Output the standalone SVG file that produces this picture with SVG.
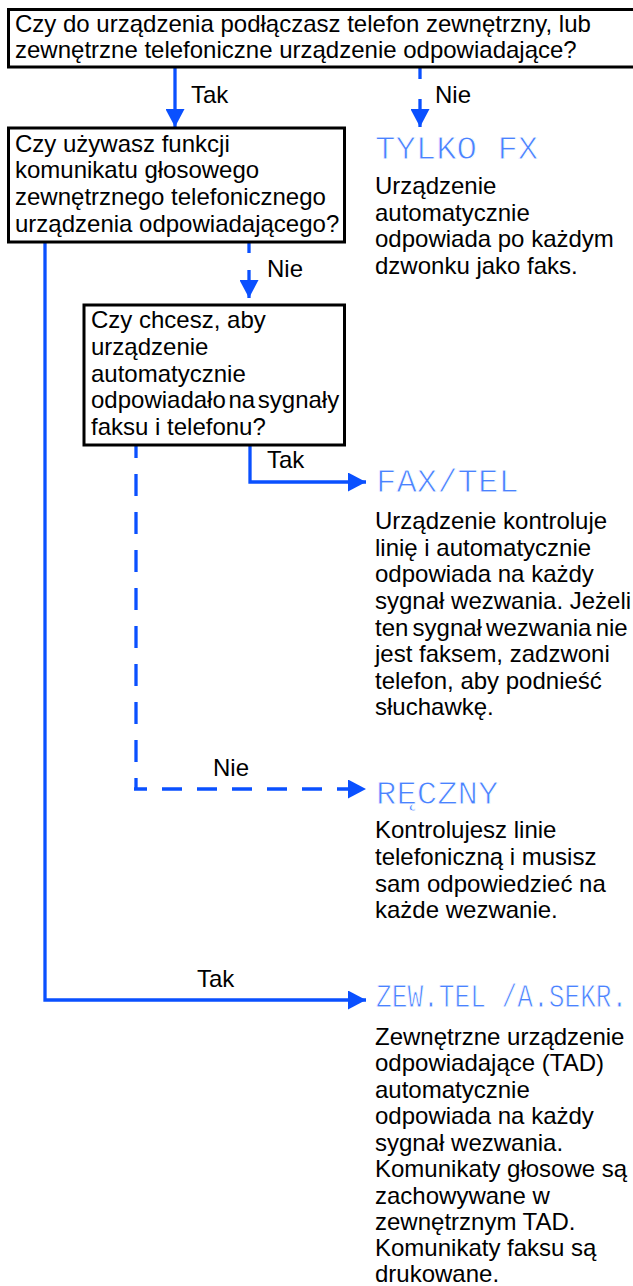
<svg xmlns="http://www.w3.org/2000/svg" width="633" height="1286" viewBox="0 0 633 1286">
<style>
.t{font-family:"Liberation Sans",Arial,sans-serif;font-size:24px;fill:#000}
.h{font-family:"Liberation Mono","Courier New",monospace;font-size:34px;fill:#4a82ff;stroke:#fff;stroke-width:0.9}
.box{fill:#fff;stroke:#000;stroke-width:3}
.c{fill:none;stroke:#0a50ff;stroke-width:3.3}
</style>
<defs>
<marker id="ah" markerUnits="userSpaceOnUse" markerWidth="18" markerHeight="19" refX="18" refY="9.5" orient="auto" viewBox="0 0 18 19">
<path d="M0,0 L18,9.5 L0,19 Z" fill="#0a50ff"/>
</marker>
</defs>
<rect width="633" height="1286" fill="#fff"/>
<g id="connectors">
<path class="c" d="M175,68 V127" marker-end="url(#ah)"/>
<path class="c" d="M420,68 V127" stroke-dasharray="11 20 100" marker-end="url(#ah)"/>
<path class="c" d="M249,242 V298" stroke-dasharray="11 17 100" marker-end="url(#ah)"/>
<path class="c" d="M45,242 V1000 H366" marker-end="url(#ah)"/>
<path class="c" d="M250,445 V482 H366" marker-end="url(#ah)"/>
<path class="c" d="M136,436 V790" stroke-dasharray="22 16"/>
<path class="c" d="M134,789 H366" stroke-dasharray="20 15" stroke-dashoffset="7" marker-end="url(#ah)"/>
<text class="t" x="191" y="103">Tak</text>
<text class="t" x="435" y="103">Nie</text>
<text class="t" x="267" y="277">Nie</text>
<text class="t" x="267" y="468">Tak</text>
<text class="t" x="213" y="776">Nie</text>
<text class="t" x="197" y="987">Tak</text>
</g>
<g id="q1">
<rect class="box" x="8.5" y="9.5" width="640" height="57.5"/>
<text class="t" x="15" y="32">Czy do urządzenia podłączasz telefon zewnętrzny, lub</text>
<text class="t" x="15" y="58">zewnętrzne telefoniczne urządzenie odpowiadające?</text>
</g>
<g id="q2">
<rect class="box" x="8.5" y="128" width="336" height="114"/>
<text class="t" x="15" y="152">Czy używasz funkcji</text>
<text class="t" x="15" y="178">komunikatu głosowego</text>
<text class="t" x="15" y="205">zewnętrznego telefonicznego</text>
<text class="t" x="15" y="232">urządzenia odpowiadającego?</text>
</g>
<g id="q3">
<rect class="box" x="84" y="305" width="260.5" height="140"/>
<text class="t" x="91" y="328">Czy chcesz, aby</text>
<text class="t" x="91" y="355">urządzenie</text>
<text class="t" x="91" y="382">automatycznie</text>
<text class="t" x="91" y="408" word-spacing="-4">odpowiadało na sygnały</text>
<text class="t" x="91" y="435">faksu i telefonu?</text>
</g>
<g id="fx">
<text class="h" x="375" y="159">TYLKO FX</text>
<text class="t" x="375" y="194">Urządzenie</text>
<text class="t" x="375" y="221">automatycznie</text>
<text class="t" x="375" y="247">odpowiada po każdym</text>
<text class="t" x="375" y="274">dzwonku jako faks.</text>
</g>
<g id="faxtel">
<text class="h" x="376" y="492">FAX/TEL</text>
<text class="t" x="375" y="529">Urządzenie kontroluje</text>
<text class="t" x="375" y="556">linię i automatycznie</text>
<text class="t" x="375" y="582">odpowiada na każdy</text>
<text class="t" x="375" y="609">sygnał wezwania. Jeżeli</text>
<text class="t" x="375" y="636" word-spacing="-2.5">ten sygnał wezwania nie</text>
<text class="t" x="375" y="662">jest faksem, zadzwoni</text>
<text class="t" x="375" y="689">telefon, aby podnieść</text>
<text class="t" x="375" y="715">słuchawkę.</text>
</g>
<g id="reczny">
<text class="h" x="376" y="804">RĘCZNY</text>
<text class="t" x="375" y="838">Kontrolujesz linie</text>
<text class="t" x="375" y="865">telefoniczną i musisz</text>
<text class="t" x="375" y="892">sam odpowiedzieć na</text>
<text class="t" x="375" y="918">każde wezwanie.</text>
</g>
<g id="zewtel">
<text class="h" transform="translate(376,1007) scale(0.77,1)" x="0" y="0">ZEW.TEL /A.SEKR.</text>
<text class="t" x="375" y="1045">Zewnętrzne urządzenie</text>
<text class="t" x="375" y="1071">odpowiadające (TAD)</text>
<text class="t" x="375" y="1098">automatycznie</text>
<text class="t" x="375" y="1124">odpowiada na każdy</text>
<text class="t" x="375" y="1151">sygnał wezwania.</text>
<text class="t" x="375" y="1177">Komunikaty głosowe są</text>
<text class="t" x="375" y="1204">zachowywane w</text>
<text class="t" x="375" y="1230">zewnętrznym TAD.</text>
<text class="t" x="375" y="1256">Komunikaty faksu są</text>
<text class="t" x="375" y="1282">drukowane.</text>
</g>
</svg>
